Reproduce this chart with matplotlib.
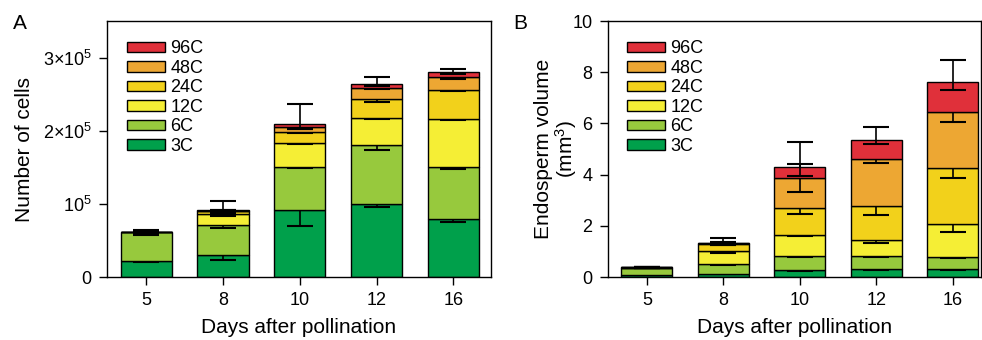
#!/usr/bin/env python3

import numpy as np
import matplotlib
matplotlib.use("Agg")
import matplotlib.pyplot as plt

plt.rcParams["font.family"] = ["Liberation Sans", "DejaVu Sans"]
plt.rcParams["mathtext.fontset"] = "custom"
plt.rcParams["mathtext.rm"] = "Liberation Sans"
plt.rcParams["mathtext.it"] = "Liberation Sans:italic"

# data
days = ["5", "8", "10", "12", "16"]
classes = ["3C", "6C", "12C", "24C", "48C", "96C"]
colors = ["#00a04b", "#97c93d", "#f5ee35", "#f2d11b", "#eda733", "#e0303a"]

# number of cells (x 10^5), per ploidy class, per day
cells = {
    "3C":  [0.22, 0.305, 0.92, 1.00, 0.795],
    "6C":  [0.39, 0.405, 0.58, 0.81, 0.715],
    "12C": [0.004, 0.15, 0.33, 0.36, 0.65],
    "24C": [0.003, 0.04, 0.16, 0.27, 0.40],
    "48C": [0.002, 0.01, 0.06, 0.15, 0.18],
    "96C": [0.002, 0.006, 0.04, 0.05, 0.06],
}
cells_err_lo = {
    "3C":  [0.02, 0.075, 0.22, 0.04, 0.035],
    "6C":  [0.03, 0.04, 0.01, 0.07, 0.03],
    "12C": [0.005, 0.025, 0.01, 0.01, 0.01],
    "24C": [0.005, 0.02, 0.02, 0.05, 0.01],
    "48C": [0.005, 0.01, 0.02, 0.02, 0.03],
    "96C": [0.005, 0.02, 0.06, 0.03, 0.03],
}
cells_err_hi = [0.01, 0.13, 0.28, 0.09, 0.04]  # top segment only

# endosperm volume (mm^3)
volume = {
    "3C":  [0.09, 0.13, 0.29, 0.33, 0.33],
    "6C":  [0.28, 0.39, 0.55, 0.51, 0.46],
    "12C": [0.004, 0.51, 0.81, 0.60, 1.30],
    "24C": [0.003, 0.27, 1.03, 1.33, 2.19],
    "48C": [0.002, 0.04, 1.18, 1.84, 2.16],
    "96C": [0.002, 0.01, 0.44, 0.75, 1.18],
}
volume_err_lo = {
    "3C":  [0.01, 0.02, 0.05, 0.05, 0.04],
    "6C":  [0.01, 0.03, 0.05, 0.05, 0.04],
    "12C": [0.01, 0.08, 0.04, 0.09, 0.34],
    "24C": [0.01, 0.05, 0.21, 0.35, 0.39],
    "48C": [0.01, 0.05, 0.55, 0.16, 0.39],
    "96C": [0.01, 0.10, 0.35, 0.16, 0.33],
}
volume_err_hi = [0.02, 0.16, 0.99, 0.50, 0.85]  # top segment only


def stacked(ax, values, err_lo, err_hi):
    x = np.arange(len(days))
    bottom = np.zeros(len(days))
    n = len(classes)
    for i, (c, col) in enumerate(zip(classes, colors)):
        v = np.array(values[c])
        top = bottom + v
        ax.bar(x, v, width=0.665, bottom=bottom, color=col, edgecolor="black",
               linewidth=1.0, label=c, zorder=2 + 2 * i)
        lo = np.array(err_lo[c])
        hi = np.array(err_hi) if i == n - 1 else lo
        ax.errorbar(x, top, yerr=[lo, hi], fmt="none", ecolor="black",
                    elinewidth=1.2, capsize=9.3, capthick=1.5, zorder=3 + 2 * i)
        bottom = top
    ax.set_xticks(x)
    ax.set_xticklabels(days, fontsize=13)
    ax.set_xlabel("Days after pollination", fontsize=15, labelpad=6)
    ax.tick_params(direction="out", length=6, width=1, pad=5)
    for s in ax.spines.values():
        s.set_linewidth(1.0)
    h, l = ax.get_legend_handles_labels()
    ax.legend(h[::-1], l[::-1], loc="upper left", bbox_to_anchor=(0.052, 0.925),
              frameon=False, fontsize=13, handlelength=2.1, handleheight=0.5,
              labelspacing=0.14, handletextpad=0.3, borderpad=0, borderaxespad=0)


fig = plt.figure(figsize=(9.82, 3.40), dpi=100)
axA = fig.add_axes([0.109, 0.185, 0.391, 0.753])
axB = fig.add_axes([0.619, 0.185, 0.380, 0.753])

stacked(axA, cells, cells_err_lo, cells_err_hi)
axA.set_xlim(-0.51, 4.49)
axA.set_ylim(0, 3.5)
axA.set_yticks([0, 1, 2, 3])
axA.set_yticklabels(["0", r"10$^5$", r"2×10$^5$", r"3×10$^5$"], fontsize=13)
axA.set_ylabel("Number of cells", fontsize=15, labelpad=6)

stacked(axB, volume, volume_err_lo, volume_err_hi)
axB.set_xlim(-0.51, 4.37)
axB.set_ylim(0, 10)
axB.set_yticks([0, 2, 4, 6, 8, 10])
axB.set_yticklabels(["0", "2", "4", "6", "8", "10"], fontsize=13)
axB.set_ylabel("Endosperm volume\n(mm$^3$)", fontsize=15, linespacing=1.0)
axB.yaxis.set_label_coords(-0.077, 0.5)

fig.text(0.013, 0.915, "A", fontsize=15)
fig.text(0.523, 0.915, "B", fontsize=15)

plt.savefig("out.png", dpi=100)
